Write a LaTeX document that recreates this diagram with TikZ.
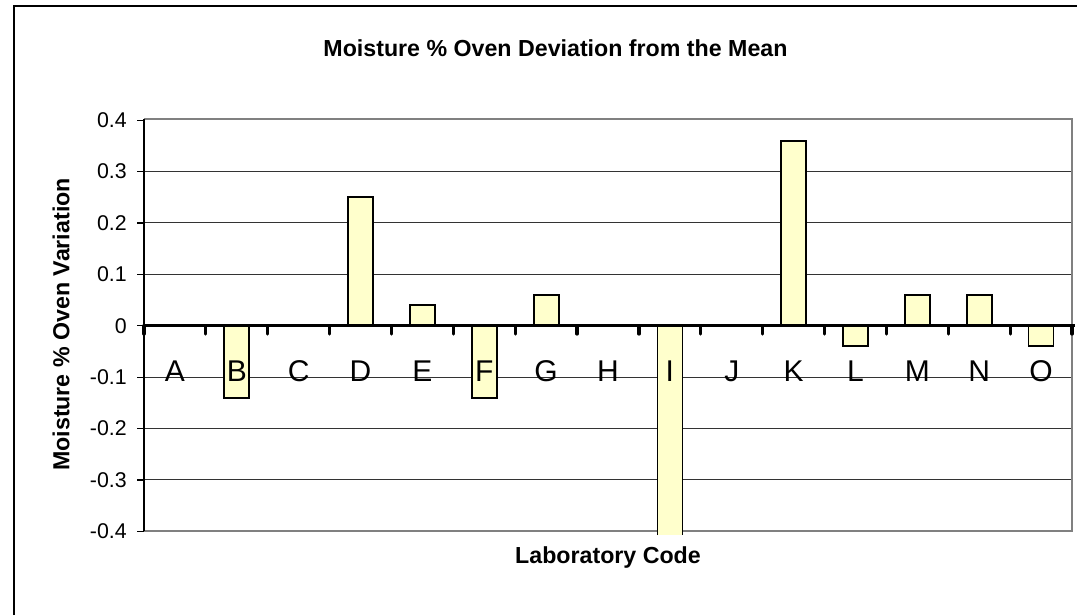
\documentclass[tikz,border=0pt]{standalone}
\usepackage{fontspec}
\setmainfont{Liberation Sans}
\definecolor{barfill}{HTML}{FFFFCC}
\definecolor{framegray}{HTML}{808080}
\definecolor{gridcol}{HTML}{333333}
\begin{document}
\begin{tikzpicture}[x=0.75pt,y=-0.75pt,
  gridline/.style={gridcol,line width=0.75pt},
  plotframe/.style={framegray,line width=1.5pt},
  barbox/.style={fill=barfill,draw=black,line width=1.3pt},
  ticklab/.style={anchor=east,inner sep=0pt,font=\fontsize{16}{18}\selectfont},
  catlab/.style={anchor=center,inner sep=0pt,font=\fontsize{22.5}{25}\selectfont},
  axtitle/.style={inner sep=0pt,font=\bfseries\fontsize{17.4}{20}\selectfont}]
\useasboundingbox (0,0) rectangle (1077,615);
\fill[white] (0,0) rectangle (1077,615);
% outer chart border
\draw[black,line width=1.5pt] (14,615) -- (14,6) -- (1077,6);
% title
\node[axtitle] (title) at (555.5,48) {Moisture \% Oven Deviation from the Mean};
% gridlines
\foreach \v in {0.3,0.2,0.1,-0.1,-0.2,-0.3}
  \draw[gridline] (144,{325.7-514*\v}) -- (1072,{325.7-514*\v});
% plot frame
\draw[plotframe] (144,119.3) -- (1072,119.3) -- (1072,530.7) -- (144,530.7);
% value axis
\draw[black,line width=0.9pt] (144,119.3) -- (144,530.7);
\foreach \v/\t [count=\i] in {0.4/0.4,0.3/0.3,0.2/0.2,0.1/0.1,0/0,-0.1/-0.1,-0.2/-0.2,-0.3/-0.3,-0.4/-0.4}{
  \draw[black,line width=0.9pt] (137,{325.7-514*\v}) -- (144,{325.7-514*\v});
  \node[ticklab] (yt\i) at (127,{325.7-514*\v}) {\t};
}
% bars
\foreach \v [count=\i] in {0,-0.14,0,0.25,0.04,-0.14,0.06,0,0,0,0.36,-0.04,0.06,0.06,-0.04}{
  \ifdim \v pt=0pt\relax\else
  \draw[barbox] ({144+61.87*(\i-0.5)-12.5},325.7) rectangle ({144+61.87*(\i-0.5)+12.5},{325.7-514*\v});
  \fi
}
% bar I (runs past the axis minimum)
\fill[barfill] ({144+61.87*8.5-12.5},325.7) rectangle ({144+61.87*8.5+12.5},535);
\draw[black,line width=1.3pt] ({144+61.87*8.5-12.5},535) -- ({144+61.87*8.5-12.5},325.7) -- ({144+61.87*8.5+12.5},325.7) -- ({144+61.87*8.5+12.5},535);
% category axis
\draw[black,line width=2.4pt] (144,325.7) -- (1075,325.7);
\foreach \k in {0,...,15}
  \draw[black,line width=2.4pt,line cap=round] ({144+61.87*\k},325.7) -- ({144+61.87*\k},334);
% category labels
\foreach \c [count=\i] in {A,B,C,D,E,F,G,H,I,J,K,L,M,N,O}
  \node[catlab] (cat\c) at ({144+61.87*(\i-0.5)},371) {\c};
% axis titles
\node[axtitle,rotate=90] (ytitle) at (61,324.5) {Moisture \% Oven Variation};
\node[axtitle] (xtitle) at (608,557) {Laboratory Code};
\end{tikzpicture}
\end{document}
